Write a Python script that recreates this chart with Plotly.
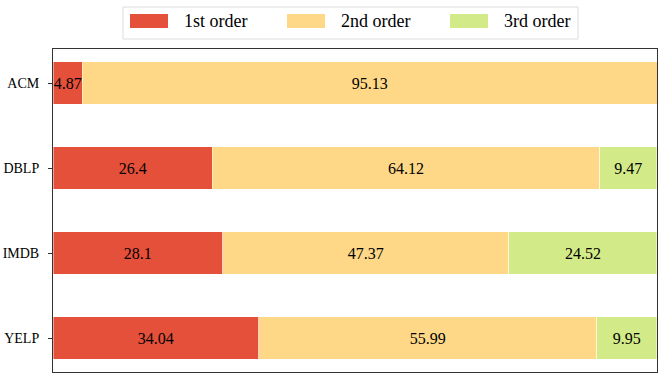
import plotly.graph_objects as go

# data
datasets = ["ACM", "DBLP", "IMDB", "YELP"]
first_order = [4.87, 26.4, 28.1, 34.04]
second_order = [95.13, 64.12, 47.37, 55.99]
third_order = [0.0, 9.47, 24.52, 9.95]

series_names = ["1st order", "2nd order", "3rd order"]
series_colors = ["#E5503A", "#FED886", "#D3EA88"]

FONT = "Liberation Serif"

fig = go.Figure()
for name, vals, col in zip(series_names, [first_order, second_order, third_order], series_colors):
    labels = [("%g" % v) if v > 0 else "" for v in vals]
    fig.add_trace(go.Bar(
        y=datasets, x=vals, name=name, orientation="h",
        marker=dict(color=col, line=dict(color="rgba(255,255,255,0.6)", width=0.8)),
        text=labels, textposition="inside", insidetextanchor="middle", textangle=0,
        constraintext="none", cliponaxis=False,
        textfont=dict(family=FONT, size=16, color="black"),
        width=0.5, showlegend=False, hoverinfo="skip",
    ))

# hand-made legend (matplotlib style: wide swatches, light frame)
L, R, T, B = 53, 657, 49, 372
W, H = R - L, B - T
px = lambda x: (x - L) / W
py = lambda y: (B - y) / H

fig.add_shape(type="rect", xref="paper", yref="paper",
              x0=px(123), x1=px(578), y0=py(39), y1=py(7),
              line=dict(color="#dcdcdc", width=1), fillcolor="white")
swatch_left = [130, 287, 450]
for i, (name, col) in enumerate(zip(series_names, series_colors)):
    x0 = swatch_left[i]
    fig.add_shape(type="rect", xref="paper", yref="paper",
                  x0=px(x0), x1=px(x0 + 38), y0=py(28), y1=py(14),
                  line=dict(width=0), fillcolor=col)
    fig.add_annotation(xref="paper", yref="paper", x=px(x0 + 52), y=py(21),
                       text=name, showarrow=False, xanchor="left", yanchor="middle",
                       font=dict(family=FONT, size=18, color="black"))

fig.update_layout(
    width=665, height=384,
    margin=dict(l=L, r=665 - R, t=T, b=384 - B),
    barmode="stack", bargap=0.5,
    plot_bgcolor="white", paper_bgcolor="white",
    font=dict(family=FONT, size=14, color="black"),
)
fig.update_xaxes(range=[0, 100], showticklabels=False, ticks="", showgrid=False, zeroline=False,
                 showline=True, linecolor="#333333", linewidth=1, mirror=True, automargin=False)
fig.update_yaxes(range=[3.4, -0.4], ticks="outside", ticklen=4, tickcolor="#333333",
                 ticklabelstandoff=6,
                 showgrid=False, zeroline=False, showline=True, linecolor="#333333",
                 linewidth=1, mirror=True, tickfont=dict(family=FONT, size=14), automargin=False)

fig.write_html("out.html", config={"displayModeBar": False},
               post_script="document.body.style.margin='0';")
